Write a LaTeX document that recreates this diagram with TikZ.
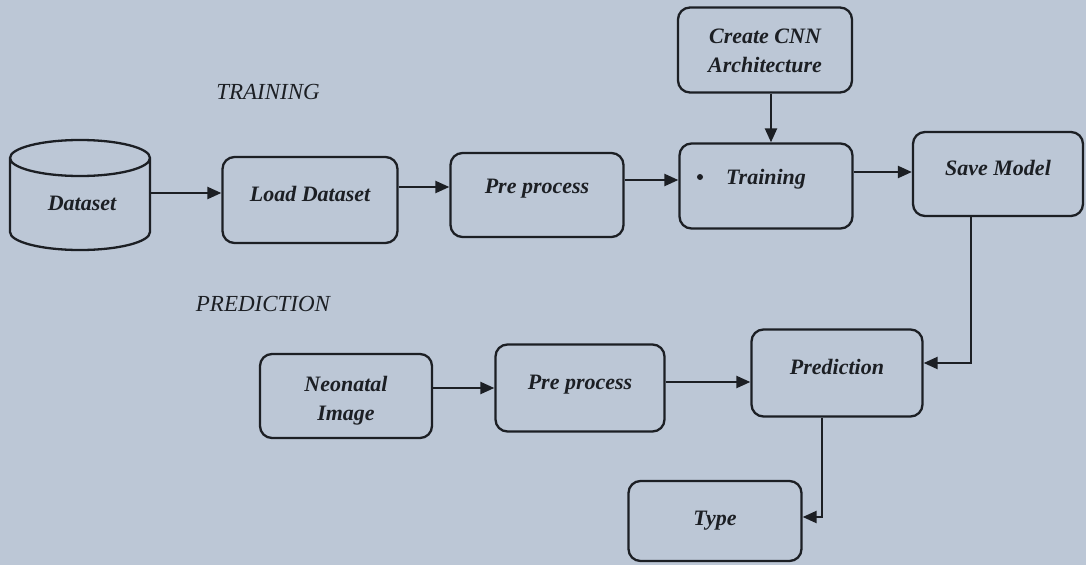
\documentclass[tikz,border=0pt]{standalone}
\usepackage{fontspec}
\setmainfont{Liberation Serif}
\usetikzlibrary{arrows.meta}
\definecolor{paper}{RGB}{188,199,214}
\definecolor{ink}{RGB}{28,31,36}
\tikzset{
  box/.style={draw=ink, line width=2.3pt, rounded corners=12pt, text=ink,
    font=\fontsize{22}{29}\selectfont\bfseries\itshape, align=center,
    inner sep=0pt},
  lift/.style={text depth=#1},
  arr/.style={draw=ink, line width=2.3pt, -{Triangle[length=14pt,width=12pt]}},
  head/.style={text=ink, font=\fontsize{23}{28}\selectfont\itshape, inner sep=0pt}
}
\begin{document}
\begin{tikzpicture}[x=1pt,y=-1pt]
\fill[paper] (0,0) rectangle (1086,565);
\useasboundingbox (0,0) rectangle (1086,565);

\node[head] (trainhead) at (268,92) {TRAINING};
\node[head] (predhead) at (263,304) {PREDICTION};

% Dataset cylinder
\node[inner sep=0pt, minimum width=140pt, minimum height=110pt] (ds) at (80,195) {};
\draw[ink, line width=2.3pt] (10,158) arc[start angle=180, end angle=0, x radius=70, y radius=18]
  arc[start angle=0, end angle=-180, x radius=70, y radius=18] -- (10,232)
  arc[start angle=180, end angle=0, x radius=70, y radius=18] -- (150,158);
\node[text=ink, font=\fontsize{22}{29}\selectfont\bfseries\itshape] (dstext) at (82,203) {Dataset};

\node[box, lift=12pt, minimum width=175pt, minimum height=86pt] (load) at (310,200) {Load Dataset};
\node[box, lift=16.5pt, minimum width=173pt, minimum height=84pt] (pre1) at (537,195) {Pre process};
\node[box, minimum width=174pt, minimum height=85pt] (cnn) at (765,50) {\rule{0pt}{17pt}Create CNN\\Architecture};
\node[box, lift=19pt, minimum width=173pt, minimum height=85pt] (train) at (766,186) {Training};
\fill[ink] (700,177) circle (3pt);
\node[box, lift=12pt, minimum width=170pt, minimum height=84pt] (save) at (998,174) {Save Model};

\node[box, minimum width=172pt, minimum height=84pt] (neo) at (346,396) {\rule{0pt}{25pt}Neonatal\\Image};
\node[box, lift=10.5pt, minimum width=169pt, minimum height=87pt] (pre2) at (580,388) {Pre process};
\node[box, lift=12pt, minimum width=171pt, minimum height=87pt] (pred) at (837,373) {Prediction};
\node[box, minimum width=173pt, minimum height=80pt] (type) at (715,521) {Type};

\draw[arr] ([yshift=2pt]ds.east) -- ([yshift=7pt]load.west);
\draw[arr] ([yshift=13pt]load.east) -- ([yshift=8pt]pre1.west);
\draw[arr] ([yshift=15pt]pre1.east) -- ([yshift=6pt]train.west);
\draw[arr] ([xshift=6pt]cnn.south) -- ([xshift=5pt]train.north);
\draw[arr] ([yshift=14pt]train.east) -- ([yshift=2pt]save.west);
\draw[arr] ([xshift=-27pt]save.south) |- ([yshift=10pt]pred.east);
\draw[arr] ([yshift=8pt]neo.east) -- ([yshift=0pt]pre2.west);
\draw[arr] ([yshift=6pt]pre2.east) -- ([yshift=-9pt]pred.west);
\draw[arr] ([xshift=-15pt]pred.south) |- ([yshift=4pt]type.east);
\end{tikzpicture}
\end{document}
